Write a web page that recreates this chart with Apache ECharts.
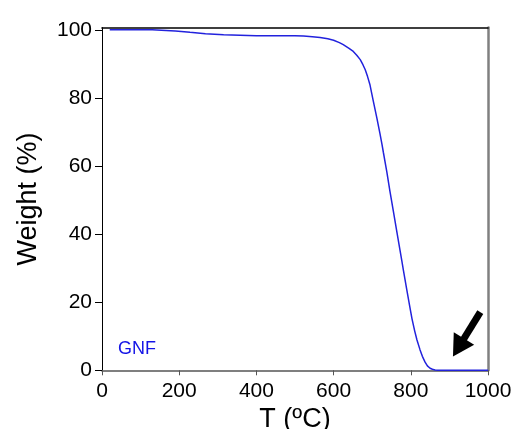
<!DOCTYPE html>
<html>
<head>
<meta charset="utf-8">
<script src="https://cdn.jsdelivr.net/npm/echarts@6/dist/echarts.min.js"></script>
<style>
  html, body { margin: 0; padding: 0; background: #fff; }
  #chart { width: 515px; height: 429px; }
</style>
</head>
<body>
<div id="chart"></div>
<script>
// TGA curve of GNF: temperature (°C) and remaining weight (%)
const temperature = [20, 130, 132, 190, 192, 228, 230, 268, 270, 315, 318, 400, 500, 522, 545, 565, 585, 600, 615, 625, 640, 651, 660, 669, 676, 682, 688, 694, 699, 703, 712, 720, 725, 729, 738, 746, 755, 764, 772, 777, 781, 790, 797, 803, 810, 816, 824, 830, 837, 843, 850, 856, 863, 870, 900, 1000];
const weight = [100.1, 100.1, 99.7, 99.7, 99.3, 99.3, 98.9, 98.9, 98.6, 98.6, 98.3, 98.3, 98.3, 98.2, 98.0, 97.8, 97.4, 97.0, 96.3, 95.7, 94.6, 93.7, 92.6, 91.3, 89.8, 88.3, 86.3, 84.0, 81.2, 79.0, 74.2, 69.6, 66.6, 64.0, 58.2, 52.6, 46.6, 40.6, 35.3, 32.0, 29.3, 23.4, 18.9, 15.2, 11.6, 8.9, 6.0, 4.1, 2.4, 1.3, 0.6, 0.3, 0.1, 0.05, 0.05, 0.05];

const xTicks = [0, 200, 400, 600, 800, 1000];
const yTicks = [0, 20, 40, 60, 80, 100];

// Arrow pointing at the flat residue: [tail], [head centre]
const arrowTail = [980, 17.1];
const arrowHead = [923.5, 6.7];

const seriesName = 'GNF';

const points = temperature.map((t, i) => [t, weight[i]]);

const FONT = 'Liberation Sans, Arial, Helvetica, sans-serif';

const chart = echarts.init(document.getElementById('chart'), null, { renderer: 'canvas' });

chart.setOption({
  animation: false,
  backgroundColor: '#ffffff',
  grid: { left: 102, right: 27, top: 27.6, bottom: 58.7, containLabel: false, outerBoundsMode: 'none' },
  xAxis: [
    {
      type: 'value', min: 0, max: 1000, interval: 200,
      name: 'T (ºC)', nameLocation: 'middle', nameGap: 36,
      nameTextStyle: { fontFamily: FONT, fontSize: 27, color: '#000' },
      axisLine: { show: true, onZero: false, lineStyle: { color: '#555', width: 1.6 } },
      axisTick: { show: true, inside: false, length: 5, lineStyle: { color: '#555', width: 1 }, customValues: xTicks },
      axisLabel: { fontFamily: FONT, fontSize: 21, color: '#000', margin: 10, customValues: xTicks, formatter: v => String(v) },
      splitLine: { show: false }
    },
    {
      type: 'value', min: 0, max: 1000, position: 'top',
      axisLine: { show: true, onZero: false, lineStyle: { color: '#000', width: 1.6 } },
      axisTick: { show: false }, axisLabel: { show: false }, splitLine: { show: false }
    }
  ],
  yAxis: [
    {
      type: 'value', min: 0, max: 100.7,
      name: 'Weight (%)', nameLocation: 'middle', nameGap: 60, nameRotate: 90,
      nameTextStyle: { fontFamily: FONT, fontSize: 27, color: '#000' },
      axisLine: { show: true, onZero: false, lineStyle: { color: '#000', width: 1 } },
      axisTick: { show: true, inside: false, length: 7, lineStyle: { color: '#000', width: 1 }, customValues: yTicks },
      axisLabel: { fontFamily: FONT, fontSize: 21, color: '#000', margin: 10, customValues: yTicks, formatter: v => String(v) },
      splitLine: { show: false }
    },
    {
      type: 'value', min: 0, max: 100.7, position: 'right',
      axisLine: { show: true, onZero: false, lineStyle: { color: '#808080', width: 2.5 } },
      axisTick: { show: false }, axisLabel: { show: false }, splitLine: { show: false }
    }
  ],
  graphic: [
    {
      type: 'text', left: 118, top: 340,
      style: { text: seriesName, fontFamily: FONT, fontSize: 18, fill: '#1414e6' }
    }
  ],
  series: [
    {
      name: seriesName,
      type: 'line',
      data: points,
      showSymbol: false,
      smooth: false,
      lineStyle: { color: '#2222dd', width: 1.5 },
      markLine: {
        silent: true,
        animation: false,
        symbol: ['none', 'triangle'],
        symbolSize: [24, 21],
        label: { show: false },
        lineStyle: { color: '#000', width: 7, type: 'solid' },
        data: [[{ coord: arrowTail }, { coord: arrowHead }]]
      }
    }
  ]
});
</script>
</body>
</html>
